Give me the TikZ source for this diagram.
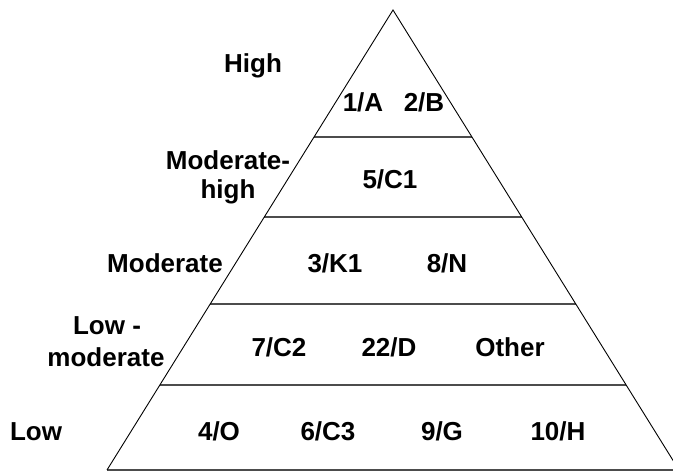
\documentclass[tikz,border=0pt]{standalone}
\usepackage{fontspec}
\setmainfont{Liberation Sans}
\usetikzlibrary{calc}
\begin{document}
\begin{tikzpicture}[x=1pt,y=-1pt,
  lbl/.style={font=\fontsize{26}{30}\selectfont\bfseries, anchor=base, inner sep=0pt, align=center},
  side/.style={draw=black, line width=0.9pt},
  band/.style={draw=black!70, line width=1.4pt}]
\useasboundingbox (0,0) rectangle (673,473);
\clip (0,0) rectangle (673,473);
\coordinate (apex) at (393,10);
\coordinate (bl) at (107,470);
\coordinate (br) at (679,470);
% band boundaries
\foreach \t/\n in {0.2761/a,0.45/b,0.639/c,0.815/d,1/e}{
  \coordinate (L\n) at ($(apex)!\t!(bl)$);
  \coordinate (R\n) at ($(apex)!\t!(br)$);
}
\draw[band] (La) -- (Ra);
\draw[band] (Lb) -- (Rb);
\draw[band] (Lc) -- (Rc);
\draw[band] (Ld) -- (Rd);
\draw[band] (Le) -- (Re);
\draw[side] (bl) -- (apex) -- (br);
% level labels
\node[lbl] (high) at (253,73) {High};
\node[lbl] (modhigh1) at (228,170) {Moderate-};
\node[lbl] (modhigh2) at (228,199) {high};
\node[lbl] (mod) at (165,273) {Moderate};
\node[lbl] (lowmod1) at (107,335) {Low -};
\node[lbl] (lowmod2) at (106,367) {moderate};
\node[lbl] (low) at (36,440) {Low};
% items
\node[lbl] (a1) at (363,112) {1/A};
\node[lbl] (b2) at (424,112) {2/B};
\node[lbl] (c51) at (390,189) {5/C1};
\node[lbl] (k31) at (335,273) {3/K1};
\node[lbl] (n8) at (447,273) {8/N};
\node[lbl] (c72) at (279,357) {7/C2};
\node[lbl] (d22) at (389,357) {22/D};
\node[lbl] (oth) at (510,357) {Other};
\node[lbl] (o4) at (219,440) {4/O};
\node[lbl] (c63) at (328,440) {6/C3};
\node[lbl] (g9) at (442,440) {9/G};
\node[lbl] (h10) at (558,440) {10/H};
\end{tikzpicture}
\end{document}
